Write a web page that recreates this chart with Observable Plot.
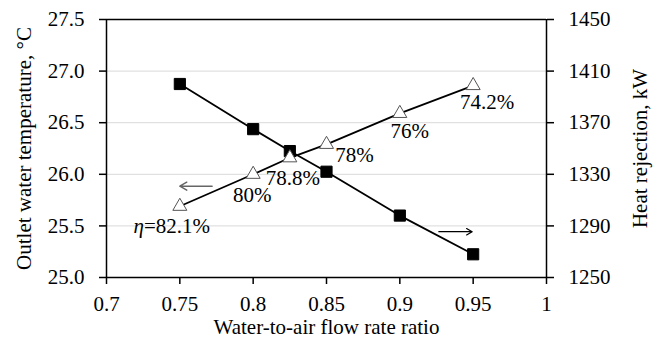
<!DOCTYPE html>
<html>
<head>
<meta charset="utf-8">
<script src="https://cdn.jsdelivr.net/npm/d3@7"></script>
<script src="https://cdn.jsdelivr.net/npm/@observablehq/plot@0.6"></script>
<style>
  html, body { margin: 0; padding: 0; background: #fff; }
  #chart { width: 662px; height: 347px; }
</style>
</head>
<body>
<div id="chart"></div>
<script>
// ---- data ----
const flowRatio = [0.75, 0.8, 0.825, 0.85, 0.9, 0.95];
const outletTemp = [25.69, 26.00, 26.16, 26.29, 26.59, 26.86];
const heatRejection = [1400, 1365, 1348, 1332, 1298, 1268];
const effLabels = ["η=82.1%", "80%", "78.8%", "78%", "76%", "74.2%"];
const tempTicks = [25.0, 25.5, 26.0, 26.5, 27.0, 27.5];
const heatTicks = [1250, 1290, 1330, 1370, 1410, 1450];
const xTicks = [0.7, 0.75, 0.8, 0.85, 0.9, 0.95, 1];
const tempArrow = [{x1: 0.772, x2: 0.750, t: 25.885}];
const heatArrow = [{x1: 0.9266, x2: 0.9493, h: 1285.5}];

// right-axis mapping (heat rejection -> temperature coordinates)
const tMin = 25, tMax = 27.5, hMin = 1250, hMax = 1450;
const h2t = h => tMin + (h - hMin) * (tMax - tMin) / (hMax - hMin);
const t2h = t => hMin + (t - tMin) * (hMax - hMin) / (tMax - tMin);

const tempData = flowRatio.map((x, i) => ({x, t: outletTemp[i], label: effLabels[i]}));
const heatData = flowRatio.map((x, i) => ({x, t: h2t(heatRejection[i])}));

const font = "'Liberation Serif', 'Times New Roman', serif";
const FS = 21;

// label offsets (pixels)
const labelOffsets = [[-8, 20], [-1, 21], [3, 20], [28, 11], [10, 18], [14, 17]];
const labelMarks = labelOffsets.map(([dx, dy], i) =>
  Plot.text([tempData[i]], {x: "x", y: "t", text: "label", dx, dy, fontSize: FS, fill: "black"})
);

const chart = Plot.plot({
  width: 662,
  height: 347,
  marginLeft: 106,
  marginRight: 116,
  marginTop: 19,
  marginBottom: 70,
  style: {fontFamily: font, fontSize: "21px", color: "black", background: "white"},
  x: {domain: [0.7, 1]},
  y: {domain: [tMin, tMax]},
  marks: [
    Plot.ruleY(tempTicks.slice(1, -1), {stroke: "#d9d9d9", strokeWidth: 1}),
    Plot.ruleY([tMax], {stroke: "black", strokeWidth: 1.5}),
    Plot.ruleY([tMin], {stroke: "black", strokeWidth: 1.5}),
    Plot.ruleX([0.7], {stroke: "black", strokeWidth: 1.5}),
    Plot.ruleX([1], {stroke: "black", strokeWidth: 1.5}),
    Plot.axisY(tempTicks, {anchor: "left", tickSize: 7, tickPadding: 15, tickFormat: d3.format(".1f"), label: null, strokeWidth: 1.5, fontSize: FS, fontVariant: "normal"}),
    Plot.axisY(heatTicks.map(h2t), {anchor: "right", tickSize: 7, tickPadding: 15, tickFormat: t => String(Math.round(t2h(t))), label: null, strokeWidth: 1.5, fontSize: FS, fontVariant: "normal"}),
    Plot.axisX(xTicks, {anchor: "bottom", tickSize: 7, tickPadding: 12, tickFormat: d => String(d), label: null, strokeWidth: 1.5, fontSize: FS, fontVariant: "normal"}),
    Plot.line(tempData, {x: "x", y: "t", stroke: "black", strokeWidth: 1.8}),
    Plot.line(heatData, {x: "x", y: "t", stroke: "black", strokeWidth: 1.8}),
    Plot.dot(heatData, {x: "x", y: "t", symbol: "square", r: 6.3, fill: "black", stroke: "black", strokeWidth: 1}),
    Plot.dot(tempData, {x: "x", y: "t", symbol: "triangle", r: 5.2, fill: "white", stroke: "#555", strokeWidth: 1}),
    ...labelMarks,
    Plot.arrow(tempArrow, {x1: "x1", x2: "x2", y1: "t", y2: "t", stroke: "#666", strokeWidth: 1.5, headLength: 8}),
    Plot.arrow(heatArrow, {x1: "x1", x2: "x2", y1: d => h2t(d.h), y2: d => h2t(d.h), stroke: "black", strokeWidth: 1.2, headLength: 8}),
    Plot.text(["Outlet water temperature, °C"], {frameAnchor: "left", textAnchor: "middle", rotate: -90, dx: -82, fontSize: FS, fill: "black"}),
    Plot.text(["Heat rejection, kW"], {frameAnchor: "right", textAnchor: "middle", rotate: -90, dx: 94, fontSize: FS, fill: "black"}),
    Plot.text(["Water-to-air flow rate ratio"], {frameAnchor: "bottom", dy: 56, fontSize: FS, fill: "black"})
  ]
});

// italicize η
chart.querySelectorAll("text").forEach(t => {
  if (t.textContent.startsWith("η")) {
    const rest = t.textContent.slice(1);
    t.textContent = "";
    const a = document.createElementNS("http://www.w3.org/2000/svg", "tspan");
    a.setAttribute("font-style", "italic");
    a.textContent = "η";
    const b = document.createElementNS("http://www.w3.org/2000/svg", "tspan");
    b.textContent = rest;
    t.appendChild(a);
    t.appendChild(b);
  }
});

document.getElementById("chart").appendChild(chart);
</script>
</body>
</html>
